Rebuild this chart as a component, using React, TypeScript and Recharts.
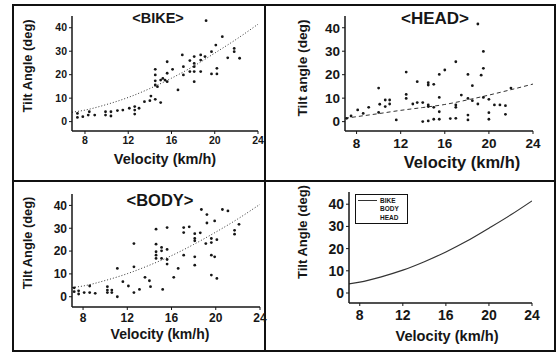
import { ComposedChart, Scatter, Line, XAxis, YAxis } from "recharts";

const FONT = '"Liberation Sans", Arial, Helvetica, sans-serif';
const INK = "#161616";

// BIKE scatter
const bikeV = [7.3, 7.3, 7.8, 8.3, 8.4, 8.9, 9.9, 9.9, 10.4, 10.4, 11.0, 11.5, 12.1, 12.6, 12.6, 12.6, 13.0, 13.5, 14.0, 14.1, 14.5, 15.0, 14.5, 14.5, 14.5, 14.5, 14.7, 15.0, 15.2, 15.4, 15.6, 15.6, 15.6, 16.1, 16.6, 17.0, 17.1, 17.1, 17.7, 17.7, 18.1, 18.1, 18.1, 18.1, 18.1, 18.7, 18.7, 18.7, 19.1, 19.2, 19.7, 19.7, 20.1, 20.2, 20.2, 20.7, 21.2, 21.8, 21.8, 22.3];
const bikeA = [1.8, 3.5, 2.1, 2.8, 4.2, 2.8, 4.2, 2.8, 4.2, 2.4, 4.7, 4.9, 5.7, 6.4, 4.9, 3.2, 5.7, 8.5, 8.9, 10.9, 9.5, 8.1, 22.3, 19.9, 17.4, 15.6, 14.9, 17.7, 18.4, 17.7, 25.5, 20.6, 17.0, 22.3, 13.5, 28.4, 23.4, 19.9, 26.0, 21.3, 27.7, 24.8, 23.4, 21.3, 17.0, 28.4, 26.2, 21.3, 27.7, 43.0, 29.8, 20.3, 32.6, 22.7, 20.3, 36.2, 27.2, 31.2, 29.8, 27.0];
const bikeFitV = [6.8, 8, 10, 12, 14, 16, 18, 20, 22, 24];
const bikeFitA = [4.0, 4.9, 7.3, 10.3, 14.1, 18.5, 23.5, 29.2, 35.1, 41.5];

// HEAD scatter
const headV = [19.0, 19.5, 19.5, 19.3, 17.0, 16.0, 15.5, 18.1, 18.5, 12.5, 13.5, 14.5, 14.5, 15.0, 10.0, 15.5, 12.5, 12.5, 10.1, 10.0, 10.6, 10.6, 11.0, 11.0, 9.1, 8.6, 8.1, 7.5, 7.1, 11.6, 13.1, 13.5, 14.0, 14.5, 14.5, 15.0, 15.5, 14.0, 14.5, 15.0, 15.5, 16.5, 17.0, 17.0, 17.0, 17.5, 18.1, 18.1, 18.1, 18.5, 19.0, 19.5, 20.0, 20.0, 20.0, 20.5, 21.0, 21.5, 21.5, 22.0];
const headA = [41.6, 29.9, 22.7, 19.8, 25.5, 22.0, 20.1, 20.1, 15.3, 21.1, 17.0, 16.6, 15.6, 15.9, 14.3, 10.3, 11.6, 9.9, 7.4, 3.9, 9.2, 6.4, 9.2, 7.5, 6.1, 3.5, 5.0, 2.4, 1.4, 0.7, 7.5, 8.1, 8.1, 7.1, 6.4, 6.1, 4.2, 0.0, 0.3, 1.0, 1.0, 1.3, 1.4, 6.1, 7.1, 11.3, 9.9, 2.8, 0.7, 8.9, 7.5, 10.3, 9.5, 3.8, 1.0, 7.1, 7.1, 6.8, 3.1, 14.3];
const headFitV = [6.95, 8, 10, 12, 14, 16, 18, 20, 22, 24];
const headFitA = [1.4, 2.1, 3.4, 4.8, 6.0, 7.3, 9.2, 11.3, 13.6, 16.0];

// BODY scatter
const bodyV = [18.7, 20.6, 21.1, 19.2, 19.2, 19.9, 22.1, 21.7, 21.7, 17.1, 17.1, 17.6, 18.1, 18.1, 18.1, 18.6, 14.6, 15.6, 14.6, 14.6, 14.6, 14.6, 15.1, 15.1, 15.6, 15.1, 15.6, 12.6, 19.6, 20.1, 19.6, 19.1, 19.9, 17.1, 18.1, 19.6, 18.1, 15.6, 16.6, 16.2, 19.6, 20.1, 11.1, 12.6, 13.6, 14.0, 14.1, 12.1, 11.6, 13.1, 12.6, 15.2, 11.1, 10.2, 10.2, 10.2, 10.6, 10.6, 8.6, 8.6, 8.1, 9.1, 7.6, 7.6, 7.2, 7.2];
const bodyA = [38.2, 38.2, 37.6, 36.0, 32.3, 33.2, 31.7, 29.1, 27.4, 30.3, 28.1, 30.6, 27.6, 25.5, 24.5, 28.0, 29.6, 30.3, 23.0, 19.7, 18.2, 16.8, 21.6, 20.1, 20.7, 16.8, 16.3, 23.3, 25.5, 25.0, 23.7, 23.3, 17.5, 18.2, 17.5, 18.2, 13.8, 14.3, 12.4, 8.5, 9.5, 8.0, 12.4, 13.1, 8.5, 7.0, 4.4, 4.7, 6.6, 3.2, 1.8, 3.2, 0.0, 4.4, 2.9, 1.8, 2.9, 1.8, 4.7, 1.8, 1.8, 1.5, 2.6, 1.2, 2.2, 3.9];
const bodyFitV = [7, 8, 10, 12, 14, 16, 18, 20, 22, 24];
const bodyFitA = [4.0, 4.7, 7.1, 10.1, 13.8, 18.0, 22.9, 28.3, 34.1, 40.5];

const xTicks = [8, 12, 16, 20, 24];
const yTicks = [0, 10, 20, 30, 40];
const legendNames = ["BIKE", "BODY", "HEAD"];

const pairs = (vs: number[], as: number[]) => vs.map((v, i) => ({ v, a: as[i] }));

const Dot = (props: any) => <circle cx={props.cx} cy={props.cy} r={1.4} fill={INK} />;

type PanelProps = {
  x0: number; y0: number; x1: number; y1: number;
  xDomain: [number, number]; yDomain: [number, number];
  points?: { v: number; a: number }[];
  fit: { v: number; a: number }[];
  dash?: string;
  fontSize: number;
  xGap: number;
};

function Panel({ x0, y0, x1, y1, xDomain, yDomain, points, fit, dash, fontSize, xGap }: PanelProps) {
  const YW = 50, XH = 30, PAD = 10;
  const w = x1 - x0 + YW + PAD;
  const h = y1 - y0 + PAD + XH;
  const tick = { fill: INK, fontSize, fontWeight: 700, fontFamily: FONT };
  return (
    <div style={{ position: "absolute", left: x0 - YW, top: y0 - PAD }}>
      <ComposedChart width={w} height={h} margin={{ top: PAD, right: PAD, bottom: 0, left: 0 }}>
        <XAxis
          dataKey="v"
          type="number"
          domain={xDomain}
          ticks={xTicks}
          allowDataOverflow
          height={XH}
          axisLine={{ stroke: INK, strokeWidth: 1.5 }}
          tickLine={{ stroke: INK }}
          tickSize={3}
          tickMargin={xGap}
          tick={tick}
          interval={0}
        />
        <YAxis
          type="number"
          domain={yDomain}
          ticks={yTicks}
          allowDataOverflow
          width={YW}
          axisLine={{ stroke: INK, strokeWidth: 1.5 }}
          tickLine={{ stroke: INK }}
          tickSize={3}
          tickMargin={2}
          tick={tick}
          interval={0}
        />
        {points && (
          <Scatter data={points} dataKey="a" shape={Dot} isAnimationActive={false} />
        )}
        <Line
          data={fit}
          dataKey="a"
          type="monotone"
          dot={false}
          stroke="#333"
          strokeWidth={dash ? 1 : 1.2}
          strokeDasharray={dash}
          isAnimationActive={false}
        />
      </ComposedChart>
    </div>
  );
}

const txt = (x: number, y: number, s: string, size: number, rotate = false, weight = 700) => (
  <div
    style={{
      position: "absolute",
      left: x,
      top: y,
      transform: `translate(-50%, -50%)${rotate ? " rotate(-90deg)" : ""}`,
      whiteSpace: "nowrap",
      fontFamily: FONT,
      fontSize: size,
      fontWeight: weight,
      color: INK,
      lineHeight: 1,
    }}
  >
    {s}
  </div>
);

export default function App() {
  const line = (l: number, t: number, w: number, h: number) => (
    <div style={{ position: "absolute", left: l, top: t, width: w, height: h, background: "#111" }} />
  );
  return (
    <div style={{ position: "absolute", left: 0, top: 0, width: 558, height: 353, background: "#fff", overflow: "hidden" }}>
      {line(12, 4, 544, 2)}
      {line(12, 350, 544, 2)}
      {line(12, 4, 2, 348)}
      {line(554, 4, 2, 348)}
      {line(264, 4, 2, 348)}
      {line(12, 180, 544, 2)}

      <Panel x0={72} y0={16} x1={258} y1={131} xDomain={[6.8, 24]} yDomain={[-4, 45]}
        points={pairs(bikeV, bikeA)} fit={pairs(bikeFitV, bikeFitA)} dash="1 2" fontSize={10.5} xGap={3} />
      <Panel x0={345} y0={16} x1={533} y1={131} xDomain={[6.95, 24]} yDomain={[-4, 45]}
        points={pairs(headV, headA)} fit={pairs(headFitV, headFitA)} dash="4 3" fontSize={13.5} xGap={4} />
      <Panel x0={72} y0={194} x1={260} y1={307} xDomain={[7, 24]} yDomain={[-4.5, 45]}
        points={pairs(bodyV, bodyA)} fit={pairs(bodyFitV, bodyFitA)} dash="1 2" fontSize={12} xGap={3} />
      <Panel x0={349} y0={192} x1={532} y1={303} xDomain={[7, 24]} yDomain={[-4.5, 45.5]}
        fit={pairs(bikeFitV, bikeFitA)} fontSize={14} xGap={4} />

      {txt(158, 18, "<BIKE>", 14.5)}
      {txt(435, 18, "<HEAD>", 17)}
      {txt(160, 200, "<BODY>", 16.5)}

      {txt(28, 66, "Tilt Angle (deg)", 12.9, true)}
      {txt(303, 68, "Tilt angle (deg)", 13.7, true)}
      {txt(28, 243, "Tilt Angle (deg)", 12.8, true)}
      {txt(302, 232, "Tilt Angle (deg)", 13, true)}

      {txt(165, 159, "Velocity (km/h)", 14.5)}
      {txt(462, 162, "Velocity (km/h)", 16.5)}
      {txt(160, 334, "Velocity (km/h)", 14)}
      {txt(447, 336, "Velocity (km/h)", 14.6)}

      <div style={{ position: "absolute", left: 355, top: 194, width: 51, height: 28, border: "1px solid #111", background: "#fff" }}>
        {legendNames.map((n, i) => (
          <div key={n} style={{ position: "absolute", left: 0, top: 1 + i * 8.5, height: 8, display: "flex", alignItems: "center" }}>
            <div style={{ width: 19, marginLeft: 2, borderTop: i === 0 ? "1px solid #333" : "1px solid transparent" }} />
            <span style={{ marginLeft: 3, fontFamily: FONT, fontSize: 6.5, fontWeight: 700, color: INK }}>{n}</span>
          </div>
        ))}
      </div>
    </div>
  );
}
